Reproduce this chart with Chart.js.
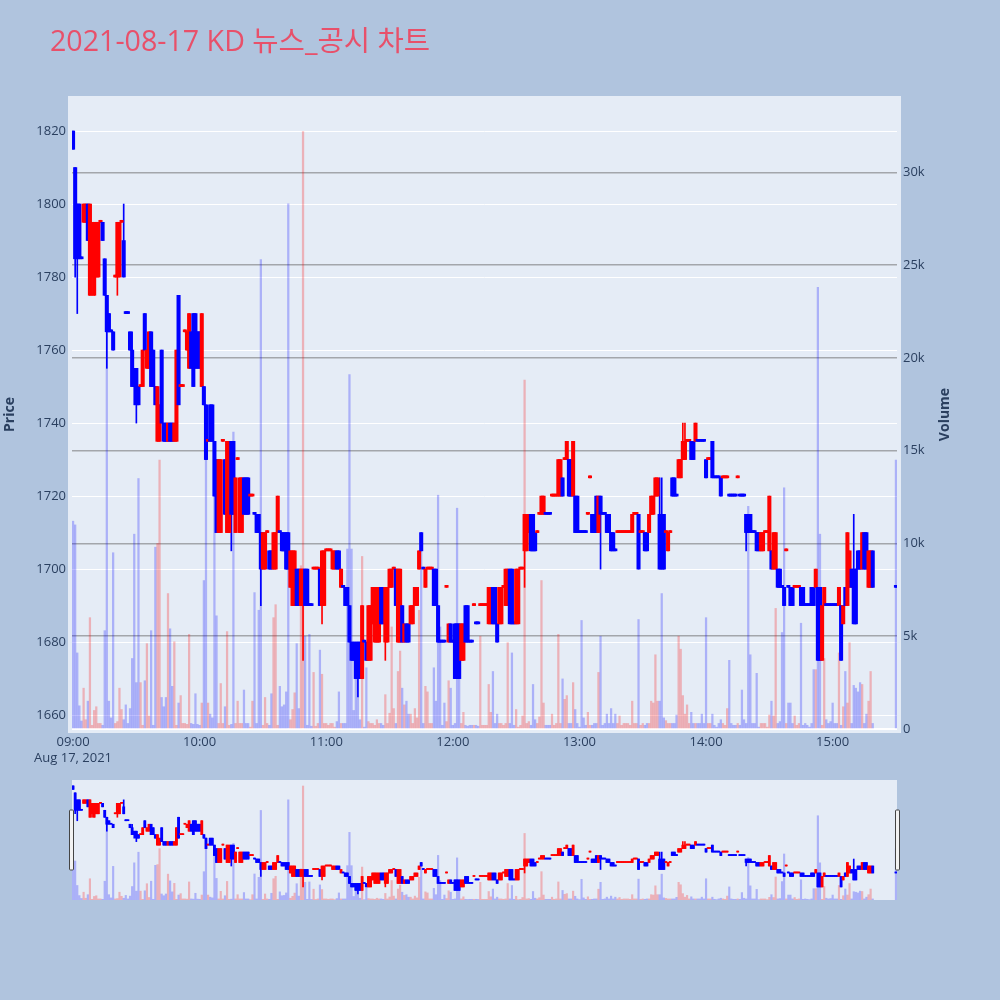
<!DOCTYPE html>
<html>
<head>
<meta charset="utf-8">
<script src="https://cdn.jsdelivr.net/npm/chart.js@4.4.1/dist/chart.umd.min.js"></script>
<style>
  html, body { margin: 0; padding: 0; background: #b0c4de; }
  #wrap { position: relative; width: 1000px; height: 1000px; }
  #main { position: absolute; left: 0; top: 0; }
  #slider { position: absolute; left: 0; top: 780px; }
</style>
</head>
<body>
<div id="wrap">
  <canvas id="main" width="1000" height="780"></canvas>
  <canvas id="slider" width="1000" height="120"></canvas>
</div>
<script>
// ---- KD, 1-minute bars, 2021-08-17 ----
const chartTitle = '2021-08-17 KD 뉴스_공시 차트';
const priceTitle = 'Price';
const volumeTitle = 'Volume';
const dateLabel = 'Aug 17, 2021';
const tickLabels = ['09:00', '10:00', '11:00', '12:00', '13:00', '14:00', '15:00'];
const priceTicks = [1660, 1680, 1700, 1720, 1740, 1760, 1780, 1800, 1820];
const volumeTicks = [0, 5000, 10000, 15000, 20000, 25000, 30000];

// regular session 09:00-15:19, then the 15:30 closing auction
const times = [];
for (let m = 0; m < 380; m++) {
  const h = 9 + Math.floor(m / 60), mm = m % 60;
  times.push(String(h).padStart(2, '0') + ':' + String(mm).padStart(2, '0'));
}
times.push('15:30');

const open = [
  1820,1810,1800,1800,1785,1795,1795,1800,1775,1780,
  1775,1780,1780,1795,1795,1785,1775,1770,1765,1765,
  1780,1780,1780,1795,1790,1770,1770,1765,1760,1755,
  1755,1750,1750,1750,1770,1755,1755,1765,1760,1750,
  1735,1735,1760,1740,1740,1735,1740,1740,1735,1735,
  1775,1750,1750,1765,1760,1755,1765,1770,1770,1765,
  1765,1750,1750,1745,1735,1745,1745,1735,1730,1710,
  1710,1735,1730,1710,1710,1735,1735,1710,1730,1710,
  1710,1725,1725,1725,1720,1720,1715,1715,1715,1710,
  1700,1700,1710,1705,1705,1700,1700,1710,1710,1710,
  1710,1710,1710,1695,1690,1690,1700,1700,1690,1690,
  1700,1700,1690,1690,1700,1700,1700,1700,1690,1690,
  1705,1705,1705,1700,1700,1705,1705,1695,1695,1695,
  1695,1690,1680,1680,1680,1680,1680,1670,1680,1680,
  1675,1675,1685,1680,1680,1680,1695,1695,1680,1680,
  1695,1695,1700,1700,1680,1680,1690,1680,1685,1685,
  1685,1685,1690,1690,1700,1710,1700,1695,1700,1700,
  1700,1700,1700,1690,1680,1680,1680,1695,1680,1685,
  1680,1685,1685,1685,1675,1675,1690,1690,1680,1680,
  1690,1685,1685,1690,1690,1690,1690,1685,1685,1695,
  1695,1685,1685,1685,1695,1690,1690,1700,1700,1685,
  1685,1685,1700,1700,1705,1705,1710,1715,1715,1710,
  1710,1715,1715,1715,1715,1715,1715,1720,1720,1720,
  1720,1720,1725,1730,1730,1730,1730,1720,1720,1720,
  1710,1710,1710,1710,1715,1725,1715,1715,1720,1710,
  1720,1715,1715,1715,1715,1710,1710,1705,1710,1710,
  1710,1710,1710,1710,1710,1710,1715,1715,1715,1710,
  1710,1710,1710,1710,1715,1715,1720,1720,1715,1715,
  1715,1710,1705,1710,1725,1725,1720,1725,1725,1730,
  1730,1735,1735,1735,1735,1735,1735,1735,1735,1735,
  1730,1730,1730,1735,1725,1725,1725,1725,1725,1725,
  1725,1720,1720,1720,1720,1725,1720,1720,1720,1715,
  1715,1715,1710,1710,1710,1710,1705,1705,1710,1710,
  1705,1705,1700,1700,1700,1700,1695,1695,1705,1695,
  1695,1695,1695,1695,1695,1695,1695,1690,1690,1690,
  1695,1695,1695,1695,1695,1675,1690,1690,1690,1690,
  1690,1690,1690,1690,1690,1685,1695,1690,1695,1700,
  1700,1700,1705,1705,1700,1710,1710,1695,1695,1705,
  1695
];
const high = [
  1820,1810,1800,1800,1785,1800,1800,1800,1800,1795,
  1795,1795,1795,1795,1795,1785,1775,1770,1765,1765,
  1780,1795,1795,1795,1800,1770,1770,1765,1765,1755,
  1755,1750,1750,1760,1770,1760,1765,1765,1760,1750,
  1750,1745,1760,1740,1740,1740,1740,1740,1740,1760,
  1775,1750,1750,1765,1765,1770,1765,1770,1770,1765,
  1765,1770,1750,1745,1735,1745,1745,1735,1730,1730,
  1730,1735,1730,1735,1735,1735,1735,1725,1730,1725,
  1725,1725,1725,1725,1720,1720,1715,1715,1715,1710,
  1710,1710,1710,1705,1705,1710,1710,1720,1710,1710,
  1710,1710,1710,1705,1705,1705,1700,1700,1700,1700,
  1700,1700,1690,1690,1700,1700,1700,1700,1705,1705,
  1705,1705,1705,1705,1705,1705,1705,1700,1695,1695,
  1695,1690,1680,1680,1680,1680,1680,1690,1680,1680,
  1690,1690,1695,1695,1695,1695,1695,1695,1695,1695,
  1700,1700,1700,1700,1700,1700,1690,1685,1685,1685,
  1690,1690,1695,1695,1705,1710,1700,1700,1700,1700,
  1700,1700,1700,1690,1680,1680,1680,1695,1685,1685,
  1680,1685,1685,1685,1685,1685,1690,1690,1680,1680,
  1690,1685,1685,1690,1690,1690,1690,1695,1695,1695,
  1695,1685,1695,1695,1695,1700,1700,1700,1700,1685,
  1700,1700,1700,1700,1715,1715,1715,1715,1715,1710,
  1710,1715,1720,1720,1715,1715,1715,1720,1720,1720,
  1730,1730,1725,1730,1735,1730,1730,1735,1720,1720,
  1710,1710,1710,1710,1715,1725,1715,1715,1720,1720,
  1720,1715,1715,1715,1715,1710,1710,1705,1710,1710,
  1710,1710,1710,1710,1710,1715,1715,1715,1715,1710,
  1710,1710,1710,1715,1720,1720,1725,1725,1725,1725,
  1715,1710,1710,1710,1725,1725,1720,1730,1730,1740,
  1740,1735,1735,1735,1735,1740,1735,1735,1735,1735,
  1730,1730,1730,1735,1725,1725,1725,1725,1725,1725,
  1725,1720,1720,1720,1720,1725,1720,1720,1720,1715,
  1715,1715,1710,1710,1710,1710,1710,1710,1710,1710,
  1720,1705,1710,1710,1700,1700,1695,1695,1705,1695,
  1695,1695,1695,1695,1695,1695,1695,1690,1690,1690,
  1695,1695,1700,1695,1695,1690,1695,1690,1690,1690,
  1690,1690,1690,1695,1690,1690,1695,1710,1705,1700,
  1715,1700,1705,1705,1710,1710,1710,1705,1705,1705,
  1695
];
const low = [
  1815,1780,1770,1785,1785,1795,1795,1790,1775,1775,
  1775,1780,1780,1795,1790,1775,1755,1765,1765,1760,
  1780,1775,1780,1795,1780,1770,1770,1760,1750,1745,
  1740,1745,1750,1750,1760,1755,1755,1750,1750,1745,
  1735,1735,1740,1735,1735,1735,1735,1735,1735,1735,
  1745,1750,1750,1765,1760,1755,1755,1750,1755,1755,
  1755,1750,1745,1730,1735,1735,1735,1720,1710,1710,
  1710,1735,1715,1710,1710,1705,1715,1710,1730,1710,
  1710,1715,1715,1715,1720,1720,1715,1710,1710,1690,
  1700,1700,1710,1700,1700,1700,1700,1710,1710,1705,
  1705,1700,1700,1695,1690,1690,1690,1690,1690,1675,
  1690,1690,1690,1690,1700,1700,1700,1690,1685,1690,
  1705,1705,1705,1700,1700,1700,1700,1695,1695,1690,
  1690,1680,1675,1675,1670,1665,1670,1670,1680,1675,
  1675,1675,1685,1680,1680,1680,1685,1685,1675,1680,
  1695,1695,1700,1690,1680,1680,1680,1680,1680,1680,
  1685,1685,1690,1690,1700,1705,1700,1695,1700,1700,
  1700,1690,1690,1680,1680,1680,1680,1695,1680,1680,
  1680,1670,1670,1670,1675,1675,1680,1680,1680,1680,
  1690,1685,1685,1690,1690,1690,1690,1685,1685,1685,
  1685,1680,1685,1685,1695,1690,1690,1685,1685,1685,
  1685,1685,1700,1700,1695,1705,1710,1705,1705,1705,
  1710,1715,1715,1715,1715,1715,1715,1720,1720,1720,
  1720,1720,1720,1730,1730,1720,1720,1720,1710,1710,
  1710,1710,1710,1710,1715,1725,1710,1710,1710,1710,
  1700,1715,1715,1710,1710,1705,1705,1705,1710,1710,
  1710,1710,1710,1710,1710,1710,1715,1715,1700,1710,
  1710,1705,1705,1710,1715,1715,1720,1720,1700,1700,
  1700,1710,1705,1710,1720,1720,1720,1725,1725,1730,
  1730,1735,1735,1730,1730,1735,1735,1735,1735,1735,
  1725,1730,1730,1725,1725,1725,1725,1720,1725,1725,
  1725,1720,1720,1720,1720,1725,1720,1720,1720,1705,
  1710,1710,1710,1710,1705,1705,1705,1705,1710,1710,
  1705,1700,1700,1700,1695,1695,1695,1690,1705,1695,
  1690,1690,1695,1695,1695,1690,1690,1690,1690,1690,
  1690,1690,1695,1675,1675,1675,1690,1690,1690,1690,
  1690,1690,1690,1690,1675,1685,1690,1690,1695,1695,
  1685,1685,1700,1700,1700,1700,1700,1695,1695,1695,
  1695
];
const close = [
  1815,1785,1785,1785,1785,1800,1800,1790,1800,1795,
  1795,1795,1795,1795,1790,1775,1765,1765,1765,1760,
  1780,1795,1795,1795,1780,1770,1770,1760,1750,1750,
  1745,1745,1750,1760,1760,1760,1765,1750,1750,1745,
  1750,1745,1740,1735,1735,1740,1735,1735,1740,1760,
  1745,1750,1750,1765,1765,1770,1755,1750,1755,1755,
  1755,1770,1745,1730,1735,1735,1735,1720,1710,1730,
  1730,1735,1715,1735,1735,1715,1715,1725,1730,1725,
  1725,1715,1715,1715,1720,1720,1715,1710,1710,1700,
  1710,1710,1710,1700,1700,1710,1710,1720,1710,1705,
  1705,1700,1700,1705,1705,1705,1690,1690,1700,1700,
  1690,1690,1690,1690,1700,1700,1700,1690,1705,1705,
  1705,1705,1705,1705,1705,1700,1700,1700,1695,1690,
  1690,1680,1675,1675,1670,1670,1670,1690,1680,1675,
  1690,1690,1695,1695,1695,1695,1685,1685,1695,1695,
  1700,1700,1700,1690,1700,1700,1680,1685,1680,1680,
  1690,1690,1695,1695,1705,1705,1700,1700,1700,1700,
  1700,1690,1690,1680,1680,1680,1680,1695,1685,1680,
  1680,1670,1670,1670,1685,1685,1680,1680,1680,1680,
  1690,1685,1685,1690,1690,1690,1690,1695,1695,1685,
  1685,1680,1695,1695,1695,1700,1700,1685,1685,1685,
  1700,1700,1700,1700,1715,1715,1715,1705,1705,1705,
  1710,1715,1720,1720,1715,1715,1715,1720,1720,1720,
  1730,1730,1720,1730,1735,1720,1720,1735,1710,1710,
  1710,1710,1710,1710,1715,1725,1710,1710,1710,1720,
  1715,1715,1715,1710,1710,1705,1705,1705,1710,1710,
  1710,1710,1710,1710,1710,1715,1715,1715,1700,1710,
  1710,1705,1705,1715,1720,1720,1725,1725,1700,1700,
  1700,1710,1710,1710,1720,1720,1720,1730,1730,1735,
  1735,1735,1735,1730,1730,1740,1735,1735,1735,1735,
  1725,1730,1730,1725,1725,1725,1725,1720,1725,1725,
  1725,1720,1720,1720,1720,1725,1720,1720,1720,1710,
  1710,1710,1710,1710,1705,1705,1710,1710,1710,1710,
  1720,1700,1710,1710,1695,1695,1695,1690,1705,1695,
  1690,1690,1695,1695,1695,1690,1690,1690,1690,1690,
  1690,1690,1700,1675,1675,1690,1695,1690,1690,1690,
  1690,1690,1690,1695,1675,1690,1690,1710,1705,1695,
  1685,1685,1700,1700,1710,1700,1700,1705,1705,1695,
  1695
];
const volume = [
  11200,11000,4100,1250,430,2200,500,1500,6000,200,
  1000,1200,300,300,200,5300,22500,1500,600,9500,
  300,400,2200,1050,500,1300,300,1100,3800,10500,
  2500,13500,2500,200,2600,4600,700,5300,200,9800,
  10000,14500,1700,1200,1700,7300,5400,2300,4700,200,
  1400,1800,300,300,250,5100,300,250,1900,250,
  200,1400,8000,16000,1400,800,600,14000,6100,300,
  2450,300,1200,5250,200,250,16000,300,1500,300,
  300,2100,300,300,100,1500,7350,300,6400,25300,
  200,1700,300,200,1900,6000,6700,200,2300,1200,
  1300,2000,28300,500,1050,1950,4600,1100,8800,32200,
  5000,200,5100,150,3050,150,300,4250,2950,300,
  300,200,300,300,100,400,2000,300,300,300,
  9700,19100,9700,1000,4000,3900,500,9300,100,3300,
  400,300,300,200,500,300,300,200,1850,300,
  850,5500,1100,300,3100,4200,2200,1300,1500,800,
  800,300,1100,600,6400,10500,300,2300,2000,300,
  300,3300,1500,12600,5500,200,1400,400,2600,2200,
  200,300,11900,4300,300,900,200,150,200,200,
  200,200,150,5000,200,200,200,2400,900,3100,
  300,800,300,300,200,300,4650,300,4100,200,
  1050,100,200,700,18800,300,400,200,2400,500,
  300,650,8000,1400,200,200,200,800,200,300,
  5100,300,2700,1600,1800,300,300,2500,1050,300,
  100,5850,600,200,900,200,200,300,300,3050,
  5000,200,300,800,300,1100,300,800,300,700,
  200,300,300,300,200,1500,300,300,5900,200,
  300,200,300,300,1500,1400,4000,1500,1500,7300,
  600,450,300,300,300,300,750,5000,4300,1800,
  800,1300,300,900,300,300,300,300,800,300,
  6000,300,300,800,200,100,300,500,300,200,
  1100,3700,300,200,200,300,200,2100,500,300,
  12000,4000,300,300,3000,100,300,300,300,100,
  750,1500,700,6500,300,400,5200,13000,300,1400,
  1400,300,700,200,300,5700,200,300,200,100,
  300,3200,3200,23800,10500,200,3800,500,300,400,
  1400,300,300,4100,200,1200,3100,1400,4650,300,
  2350,2200,2000,2500,2400,300,800,1500,3100,300,
  14500
];

// ---- derived series ----
const minuteOf = t => { const [h, m] = t.split(':').map(Number); return (h - 9) * 60 + m; };
const xs = times.map(minuteOf);
const tickMinutes = tickLabels.map(minuteOf);

// rising / falling; an unchanged bar follows the move from the previous close
const dir = [];
for (let i = 0; i < xs.length; i++) {
  let d;
  if (close[i] > open[i]) d = 1;
  else if (close[i] < open[i]) d = -1;
  else if (i > 0 && close[i] > close[i - 1]) d = 1;
  else if (i > 0 && close[i] < close[i - 1]) d = -1;
  else d = i > 0 ? dir[i - 1] : -1;
  dir.push(d);
}
const UP = '#ff0000', DOWN = '#0000ff';
const UP_VOL = 'rgba(255,0,0,0.25)', DOWN_VOL = 'rgba(0,0,255,0.25)';
const candleColors = dir.map(d => d > 0 ? UP : DOWN);
const volColors = dir.map(d => d > 0 ? UP_VOL : DOWN_VOL);

const wickData = xs.map((x, i) => ({ x, y: [low[i], high[i]] }));
const bodyData = xs.map((x, i) => ({ x, y: [Math.min(open[i], close[i]), Math.max(open[i], close[i])] }));
const volData = xs.map((x, i) => ({ x, y: volume[i] }));

const X_MIN = -0.5, X_MAX = 390.5;
const P_MIN = 1656.2, P_MAX = 1828.5;
const V_MIN = 0, V_MAX = 33900;

const TEXT = '#2a3f5f';
const FONT = '"Open Sans", "Noto Sans", sans-serif';

function makeDatasets(bodyW, wickW, volW, minLen) {
  return [
    { label: 'volume', data: volData, yAxisID: 'y2', backgroundColor: volColors,
      barThickness: volW, grouped: false, order: 3, borderWidth: 0 },
    { label: 'range', data: wickData, yAxisID: 'y', backgroundColor: candleColors,
      barThickness: wickW, grouped: false, order: 2, borderWidth: 0, minBarLength: minLen },
    { label: 'body', data: bodyData, yAxisID: 'y', backgroundColor: candleColors,
      barThickness: bodyW, grouped: false, order: 1, borderWidth: 0, minBarLength: minLen }
  ];
}

// plot background, slightly larger than the axis box
const plotBg = {
  id: 'plotBg',
  beforeDraw(chart, args, opts) {
    const { ctx, chartArea: a } = chart;
    const m = opts.margin || 0;
    ctx.save();
    ctx.fillStyle = opts.color;
    ctx.fillRect(a.left - m, a.top - m, a.right - a.left + 2 * m, a.bottom - a.top + 2 * m);
    ctx.restore();
  }
};

// chart title and the two axis titles
const headings = {
  id: 'headings',
  afterDraw(chart) {
    const { ctx, chartArea: a } = chart;
    const cy = (a.top + a.bottom) / 2;
    ctx.save();
    ctx.fillStyle = '#e8506a';
    ctx.font = '28.6px "Open Sans", "Noto Sans CJK KR", sans-serif';
    ctx.textAlign = 'left';
    ctx.textBaseline = 'alphabetic';
    ctx.fillText(chartTitle, 50, 51);
    ctx.restore();

    [[priceTitle, 10], [volumeTitle, 945]].forEach(([txt, x]) => {
      ctx.save();
      ctx.fillStyle = TEXT;
      ctx.font = 'bold 14px ' + FONT;
      ctx.textAlign = 'center';
      ctx.textBaseline = 'middle';
      ctx.translate(x, cy);
      ctx.rotate(-Math.PI / 2);
      ctx.fillText(txt, 0, 0);
      ctx.restore();
    });
  }
};

new Chart(document.getElementById('main'), {
  type: 'bar',
  data: { datasets: makeDatasets(3.4, 1, 1.6, 2) },
  plugins: [plotBg, headings],
  options: {
    responsive: false,
    animation: false,
    devicePixelRatio: 1,
    layout: { padding: { top: 100, left: 0, right: 0, bottom: 0 } },
    plugins: {
      legend: { display: false },
      tooltip: { enabled: false },
      plotBg: { color: '#e5ecf6', margin: 4 }
    },
    scales: {
      x: {
        type: 'linear', min: X_MIN, max: X_MAX, offset: false,
        grid: { display: false, drawTicks: false, offset: false },
        border: { display: false },
        afterBuildTicks: s => { s.ticks = tickMinutes.map(v => ({ value: v })); },
        afterFit: s => { s.height = 51; },
        ticks: {
          autoSkip: false, maxRotation: 0, minRotation: 0, padding: 5,
          color: TEXT, font: { family: FONT, size: 13, lineHeight: 1.25 },
          callback: (v, i) => i === 0 ? [tickLabels[0], dateLabel] : tickLabels[i]
        }
      },
      y: {
        position: 'left', min: P_MIN, max: P_MAX,
        grid: { color: '#ffffff', lineWidth: 1, drawTicks: false },
        border: { display: false },
        afterBuildTicks: s => { s.ticks = priceTicks.map(v => ({ value: v })); },
        afterFit: s => { s.width = 72; },
        ticks: { padding: 6, color: TEXT, font: { family: FONT, size: 13 }, callback: v => String(v) }
      },
      y2: {
        position: 'right', min: V_MIN, max: V_MAX,
        grid: {
          drawTicks: false,
          color: c => c.tick && c.tick.value === 0 ? '#ffffff' : 'rgba(110,110,110,0.55)',
          lineWidth: c => c.tick && c.tick.value === 0 ? 2 : 1.5
        },
        border: { display: false },
        afterBuildTicks: s => { s.ticks = volumeTicks.map(v => ({ value: v })); },
        afterFit: s => { s.width = 103; },
        ticks: {
          padding: 6, color: TEXT, font: { family: FONT, size: 13 },
          callback: v => v === 0 ? '0' : (v / 1000) + 'k'
        }
      }
    }
  }
});

// range slider handles
const grabbers = {
  id: 'grabbers',
  afterDraw(chart) {
    const { ctx, chartArea: a } = chart;
    const h = (a.bottom - a.top) / 2;
    const y = a.top + h / 2;
    ctx.save();
    ctx.fillStyle = '#f2f2f2';
    ctx.strokeStyle = '#444';
    ctx.lineWidth = 1;
    [a.left - 2.5, a.right - 1.5].forEach(x => {
      ctx.beginPath();
      ctx.roundRect(x, y, 4, h, 1);
      ctx.fill();
      ctx.stroke();
    });
    ctx.restore();
  }
};

new Chart(document.getElementById('slider'), {
  type: 'bar',
  data: { datasets: makeDatasets(2.2, 1, 1.5, 1) },
  plugins: [plotBg, grabbers],
  options: {
    responsive: false,
    animation: false,
    devicePixelRatio: 1,
    layout: { padding: { top: 0, left: 72, right: 103, bottom: 0 } },
    plugins: {
      legend: { display: false },
      tooltip: { enabled: false },
      plotBg: { color: '#e5ecf6', margin: 0 }
    },
    scales: {
      x: { type: 'linear', min: X_MIN, max: X_MAX, offset: false, display: false },
      y: { min: P_MIN, max: P_MAX, display: false },
      y2: { min: V_MIN, max: V_MAX, display: false, position: 'right' }
    }
  }
});
</script>
</body>
</html>
